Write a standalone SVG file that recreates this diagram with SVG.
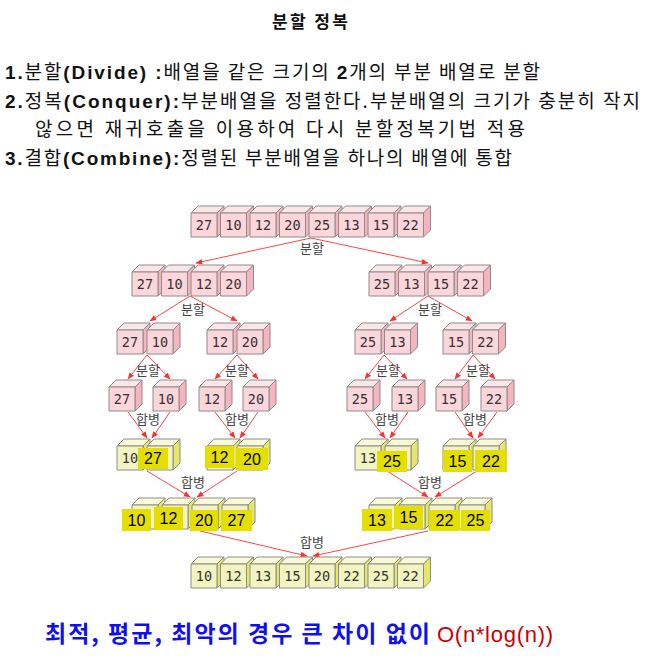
<svg xmlns="http://www.w3.org/2000/svg" width="645" height="663" viewBox="0 0 645 663">
<style>
.hd{font-family:"Noto Sans CJK KR","Liberation Sans",sans-serif;font-size:19px;fill:#111}
.lat{font-family:"Liberation Sans","Noto Sans CJK KR",sans-serif;font-weight:bold}
.ttl{font-family:"Noto Sans CJK KR",sans-serif;font-size:17px;font-weight:bold;fill:#111}
.n{font-family:"DejaVu Sans Mono","Liberation Mono",monospace;font-size:13.5px;fill:#333;text-anchor:middle}
.h{font-family:"Liberation Sans","DejaVu Sans",sans-serif;font-size:16px;fill:#000;text-anchor:middle}
.hb{fill:#e4df00}
.lb{font-family:"Noto Sans CJK KR",sans-serif;font-size:13px;fill:#444;text-anchor:middle}
.ar{stroke:#ff4646;stroke-width:1;fill:none;marker-end:url(#ah)}
.bt{font-family:"Noto Sans CJK KR",sans-serif;font-size:23px;font-weight:bold;fill:#1010ee}
.rt{font-family:"Liberation Sans",sans-serif;font-size:22px;fill:#cc0000}
</style>
<defs>
<marker id="ah" viewBox="0 0 10 10" refX="9" refY="5" markerWidth="7" markerHeight="7" orient="auto" markerUnits="userSpaceOnUse">
<path d="M0,1 L10,5 L0,9 z" fill="#ff3030"/>
</marker>
<g id="pk" stroke="#8c8c8c" stroke-width="1" stroke-linejoin="round">
<path d="M0,7 L7,0 L33,0 L26,7 z" fill="#fde6e9"/>
<path d="M26,7 L33,0 L33,24 L26,31 z" fill="#f5b4be"/>
<rect x="0" y="7" width="26" height="24" fill="#fcd6db"/>
</g>
<g id="yc" stroke="#8c8c8c" stroke-width="1" stroke-linejoin="round">
<path d="M0,7 L7,0 L33,0 L26,7 z" fill="#fafad6"/>
<path d="M26,7 L33,0 L33,24 L26,31 z" fill="#e6e66a"/>
<rect x="0" y="7" width="26" height="24" fill="#f4f4c2"/>
</g>
</defs>

<rect width="645" height="663" fill="#fff"/>

<g id="header">
<text class="ttl" x="310" y="28" text-anchor="middle" textLength="76">분할 정복</text>
<text class="hd" x="5" y="79" textLength="535"><tspan class="lat">1.</tspan>분할<tspan class="lat">(Divide) :</tspan>배열을 같은 크기의 <tspan class="lat">2</tspan>개의 부분 배열로 분할</text>
<text class="hd" x="5" y="108" textLength="635"><tspan class="lat">2.</tspan>정복<tspan class="lat">(Conquer):</tspan>부분배열을 정렬한다.부분배열의 크기가 충분히 작지</text>
<text class="hd" x="35" y="136" textLength="490">않으면 재귀호출을 이용하여 다시 분할정복기법 적용</text>
<text class="hd" x="5" y="165" textLength="507"><tspan class="lat">3.</tspan>결합<tspan class="lat">(Combine):</tspan>정렬된 부분배열을 하나의 배열에 통합</text>
</g>

<g id="connectors">
<path class="ar" d="M311,238 L196,263"/>
<path class="ar" d="M311,238 L428,263"/>
<path class="ar" d="M190,296 L150,321"/>
<path class="ar" d="M190,296 L237,321"/>
<path class="ar" d="M428,296 L390,321"/>
<path class="ar" d="M428,296 L472,321"/>
<path class="ar" d="M147,355 L128,379"/>
<path class="ar" d="M147,355 L170,379"/>
<path class="ar" d="M237,355 L215,379"/>
<path class="ar" d="M237,355 L258,379"/>
<path class="ar" d="M384,355 L365,379"/>
<path class="ar" d="M384,355 L407,379"/>
<path class="ar" d="M473,355 L455,379"/>
<path class="ar" d="M473,355 L495,379"/>
<path class="ar" d="M128,412 L147,438"/>
<path class="ar" d="M170,412 L152,438"/>
<path class="ar" d="M215,412 L235,438"/>
<path class="ar" d="M258,412 L240,438"/>
<path class="ar" d="M365,412 L385,438"/>
<path class="ar" d="M408,412 L390,438"/>
<path class="ar" d="M455,412 L473,438"/>
<path class="ar" d="M497,412 L478,438"/>
<path class="ar" d="M147,471 L190,497"/>
<path class="ar" d="M237,471 L197,497"/>
<path class="ar" d="M387,471 L428,497"/>
<path class="ar" d="M477,471 L435,497"/>
<path class="ar" d="M200,531 L307,556"/>
<path class="ar" d="M428,531 L313,556"/>
<text class="lb" x="312" y="253">분할</text>
<text class="lb" x="193" y="314">분할</text>
<text class="lb" x="430" y="314">분할</text>
<text class="lb" x="148" y="375">분할</text>
<text class="lb" x="237" y="375">분할</text>
<text class="lb" x="388" y="375">분할</text>
<text class="lb" x="478" y="375">분할</text>
<text class="lb" x="148" y="424">합병</text>
<text class="lb" x="237" y="424">합병</text>
<text class="lb" x="387" y="424">합병</text>
<text class="lb" x="475" y="424">합병</text>
<text class="lb" x="193" y="487">합병</text>
<text class="lb" x="430" y="487">합병</text>
<text class="lb" x="312" y="547">합병</text>
</g>

<g id="row1">
<use href="#pk" x="191" y="206"/><text class="n" x="204" y="230">27</text>
<use href="#pk" x="220.5" y="206"/><text class="n" x="233.5" y="230">10</text>
<use href="#pk" x="250" y="206"/><text class="n" x="263" y="230">12</text>
<use href="#pk" x="279.5" y="206"/><text class="n" x="292.5" y="230">20</text>
<use href="#pk" x="309" y="206"/><text class="n" x="322" y="230">25</text>
<use href="#pk" x="338.5" y="206"/><text class="n" x="351.5" y="230">13</text>
<use href="#pk" x="368" y="206"/><text class="n" x="381" y="230">15</text>
<use href="#pk" x="397.5" y="206"/><text class="n" x="410.5" y="230">22</text>
</g>

<g id="row2-left">
<use href="#pk" x="132" y="265"/><text class="n" x="145" y="289">27</text>
<use href="#pk" x="161.5" y="265"/><text class="n" x="174.5" y="289">10</text>
<use href="#pk" x="191" y="265"/><text class="n" x="204" y="289">12</text>
<use href="#pk" x="220.5" y="265"/><text class="n" x="233.5" y="289">20</text>
</g>
<g id="row2-right">
<use href="#pk" x="369" y="265"/><text class="n" x="382" y="289">25</text>
<use href="#pk" x="398.5" y="265"/><text class="n" x="411.5" y="289">13</text>
<use href="#pk" x="428" y="265"/><text class="n" x="441" y="289">15</text>
<use href="#pk" x="457.5" y="265"/><text class="n" x="470.5" y="289">22</text>
</g>

<g id="row3-a">
<use href="#pk" x="117" y="323"/><text class="n" x="130" y="347">27</text>
<use href="#pk" x="147" y="323"/><text class="n" x="160" y="347">10</text>
</g>
<g id="row3-b">
<use href="#pk" x="207" y="323"/><text class="n" x="220" y="347">12</text>
<use href="#pk" x="237" y="323"/><text class="n" x="250" y="347">20</text>
</g>
<g id="row3-c">
<use href="#pk" x="355" y="323"/><text class="n" x="368" y="347">25</text>
<use href="#pk" x="384.5" y="323"/><text class="n" x="397.5" y="347">13</text>
</g>
<g id="row3-d">
<use href="#pk" x="443" y="323"/><text class="n" x="456" y="347">15</text>
<use href="#pk" x="472.5" y="323"/><text class="n" x="485.5" y="347">22</text>
</g>

<g id="row4-27"><use href="#pk" x="109" y="380"/><text class="n" x="122" y="404">27</text></g>
<g id="row4-10"><use href="#pk" x="153" y="380"/><text class="n" x="166" y="404">10</text></g>
<g id="row4-12"><use href="#pk" x="199" y="380"/><text class="n" x="212" y="404">12</text></g>
<g id="row4-20"><use href="#pk" x="243" y="380"/><text class="n" x="256" y="404">20</text></g>
<g id="row4-25"><use href="#pk" x="347" y="380"/><text class="n" x="360" y="404">25</text></g>
<g id="row4-13"><use href="#pk" x="392" y="380"/><text class="n" x="405" y="404">13</text></g>
<g id="row4-15"><use href="#pk" x="436" y="380"/><text class="n" x="449" y="404">15</text></g>
<g id="row4-22"><use href="#pk" x="481" y="380"/><text class="n" x="494" y="404">22</text></g>

<g id="row5-a">
<use href="#yc" x="117" y="439"/><text class="n" x="130" y="463">10</text>
<use href="#yc" x="147" y="439"/>
<rect class="hb" x="138" y="448" width="30" height="21"/><text class="h" x="153" y="464">27</text>
</g>
<g id="row5-b">
<use href="#yc" x="207" y="439"/>
<use href="#yc" x="237" y="439"/>
<rect class="hb" x="205" y="446" width="29" height="22"/><text class="h" x="219.5" y="463">12</text>
<rect class="hb" x="236" y="448" width="32" height="22"/><text class="h" x="252" y="465">20</text>
</g>
<g id="row5-c">
<use href="#yc" x="355" y="439"/><text class="n" x="368" y="463">13</text>
<use href="#yc" x="385" y="439"/>
<rect class="hb" x="377" y="451" width="30" height="21"/><text class="h" x="392" y="467">25</text>
</g>
<g id="row5-d">
<use href="#yc" x="443" y="439"/>
<use href="#yc" x="473" y="439"/>
<rect class="hb" x="443" y="450" width="29" height="22"/><text class="h" x="457.5" y="467">15</text>
<rect class="hb" x="475" y="450" width="32" height="22"/><text class="h" x="491" y="467">22</text>
</g>

<g id="row6-left">
<use href="#yc" x="132" y="498"/>
<use href="#yc" x="162" y="498"/>
<use href="#yc" x="192" y="498"/>
<use href="#yc" x="222" y="498"/>
<rect class="hb" x="122" y="509" width="29" height="22"/><text class="h" x="136.5" y="526">10</text>
<rect class="hb" x="154" y="507" width="29" height="23"/><text class="h" x="168.5" y="524">12</text>
<rect class="hb" x="190" y="510" width="28" height="21"/><text class="h" x="204" y="526">20</text>
<rect class="hb" x="221" y="510" width="31" height="21"/><text class="h" x="236.5" y="526">27</text>
</g>
<g id="row6-right">
<use href="#yc" x="369" y="498"/>
<use href="#yc" x="399" y="498"/>
<use href="#yc" x="429" y="498"/>
<use href="#yc" x="459" y="498"/>
<rect class="hb" x="362" y="509" width="30" height="22"/><text class="h" x="377" y="526">13</text>
<rect class="hb" x="394" y="506" width="29" height="23"/><text class="h" x="408.5" y="523">15</text>
<rect class="hb" x="429" y="510" width="31" height="21"/><text class="h" x="444.5" y="526">22</text>
<rect class="hb" x="461" y="510" width="29" height="21"/><text class="h" x="475.5" y="526">25</text>
</g>

<g id="row7">
<use href="#yc" x="191" y="557"/><text class="n" x="204" y="581">10</text>
<use href="#yc" x="220.5" y="557"/><text class="n" x="233.5" y="581">12</text>
<use href="#yc" x="250" y="557"/><text class="n" x="263" y="581">13</text>
<use href="#yc" x="279.5" y="557"/><text class="n" x="292.5" y="581">15</text>
<use href="#yc" x="309" y="557"/><text class="n" x="322" y="581">20</text>
<use href="#yc" x="338.5" y="557"/><text class="n" x="351.5" y="581">22</text>
<use href="#yc" x="368" y="557"/><text class="n" x="381" y="581">25</text>
<use href="#yc" x="397.5" y="557"/><text class="n" x="410.5" y="581">22</text>
</g>

<g id="footer">
<text class="bt" x="45" y="642" textLength="385">최적, 평균, 최악의 경우 큰 차이 없이</text>
<text class="rt" x="437" y="642" textLength="116">O(n*log(n))</text>
</g>
</svg>
